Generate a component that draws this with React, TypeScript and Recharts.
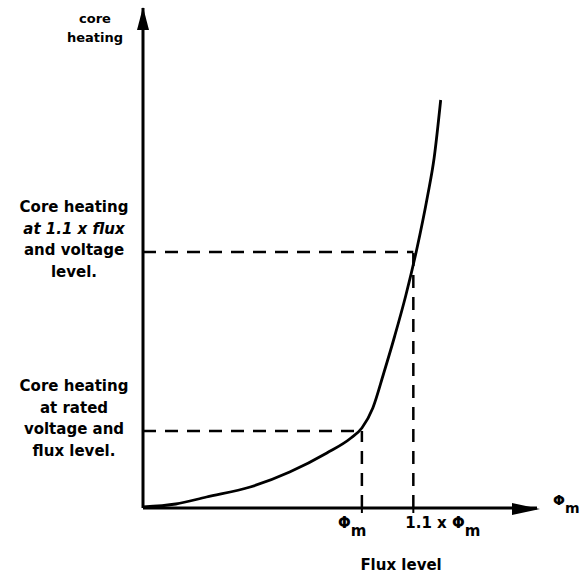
import { LineChart, Line, XAxis, YAxis, ReferenceLine, ReferenceDot, Label } from 'recharts';

// flux level (Φm = 100) and core heating
const fluxValues = [0, 15, 29, 49, 67, 84, 95, 100, 105, 110, 115, 120, 125, 130, 133, 136];
const heatValues = [1, 4, 11, 21, 36, 55, 70, 80, 100, 135, 172, 212, 258, 312, 350, 408];

const fluxTicks = [100, 123.5];
const fluxTickLabels = ['Φ', '1.1 x Φ'];

const ratedPoint = { flux: 100, heat: 77 };
const overPoint = { flux: 123.5, heat: 256 };

const ratedText = ['Core heating', 'at rated', 'voltage and', 'flux level.'];
const overText = ['Core heating', 'at 1.1 x flux', 'and voltage', 'level.'];

const FONT = '"DejaVu Sans", sans-serif';

const data = fluxValues.map((flux, i) => ({ flux, heat: heatValues[i] }));

const FluxTick = (props: any) => {
  const { x, y, payload, index } = props;
  const i = fluxTicks.indexOf(payload.value);
  const dx = index === 0 ? -24 : -8;
  return (
    <text x={x + dx} y={y + 13} fontSize={15} fontWeight="bold" fontFamily={FONT} fill="#000">
      {fluxTickLabels[i]}
      <tspan dy={8}>m</tspan>
    </text>
  );
};

const makeBlock = (lines: string[], italicLine: number) => (props: any) => {
  const { viewBox } = props;
  const cx = viewBox.x - 69;
  const y0 = viewBox.y - 40;
  return (
    <text textAnchor="middle" fontSize={15} fontWeight="bold" fontFamily={FONT} fill="#000">
      {lines.map((t, i) => (
        <tspan key={i} x={cx} y={y0 + i * 21.5} fontStyle={i === italicLine ? 'italic' : 'normal'}>
          {t}
        </tspan>
      ))}
    </text>
  );
};

const HeatAxisLabel = (props: any) => {
  const { viewBox } = props;
  const cx = viewBox.x + viewBox.width - 48;
  return (
    <text textAnchor="middle" fontSize={13} fontWeight="bold" fontFamily={FONT} fill="#000">
      <tspan x={cx} y={viewBox.y + 15}>core</tspan>
      <tspan x={cx} y={viewBox.y + 34}>heating</tspan>
    </text>
  );
};

const FluxAxisLabel = (props: any) => {
  const { viewBox } = props;
  const { x, y, width } = viewBox;
  return (
    <g fontWeight="bold" fontFamily={FONT} fill="#000">
      <text x={x + width + 16} y={y - 3} fontSize={14}>
        Φ<tspan dy={8}>m</tspan>
      </text>
      <text x={x + width * 0.655} y={y + 62} fontSize={15} textAnchor="middle">
        Flux level
      </text>
    </g>
  );
};

const ArrowUp = (props: any) => {
  const { cx, cy } = props;
  return <polygon points={`${cx},${cy - 1} ${cx - 6},${cy + 22} ${cx + 6},${cy + 22}`} fill="#000" />;
};

const ArrowRight = (props: any) => {
  const { cx, cy } = props;
  return <polygon points={`${cx + 3},${cy + 1} ${cx - 25},${cy - 5} ${cx - 25},${cy + 7}`} fill="#000" />;
};

const App = () => {
  return (
    <div style={{ position: 'absolute', left: 0, top: 0, background: '#fff' }}>
      <LineChart width={587} height={576} data={data} margin={{ top: 8, right: 50, left: 0, bottom: 0 }}>
        <XAxis
          type="number"
          dataKey="flux"
          domain={[0, 180]}
          ticks={fluxTicks}
          tick={<FluxTick />}
          tickSize={5}
          tickLine={{ stroke: '#000', strokeWidth: 2 }}
          axisLine={{ stroke: '#000', strokeWidth: 3 }}
          height={68}
        >
          <Label content={<FluxAxisLabel />} />
        </XAxis>
        <YAxis
          type="number"
          domain={[0, 500]}
          width={143}
          tick={false}
          tickLine={false}
          axisLine={{ stroke: '#000', strokeWidth: 3 }}
        >
          <Label content={<HeatAxisLabel />} />
        </YAxis>
        <ReferenceLine
          segment={[{ x: 0, y: ratedPoint.heat }, { x: ratedPoint.flux, y: ratedPoint.heat }]}
          stroke="#000"
          strokeWidth={2.5}
          strokeDasharray="13 9"
          label={makeBlock(ratedText, -1)}
        />
        <ReferenceLine
          segment={[{ x: ratedPoint.flux, y: 0 }, { x: ratedPoint.flux, y: ratedPoint.heat }]}
          stroke="#000"
          strokeWidth={2.5}
          strokeDasharray="13 9"
        />
        <ReferenceLine
          segment={[{ x: 0, y: overPoint.heat }, { x: overPoint.flux, y: overPoint.heat }]}
          stroke="#000"
          strokeWidth={2.5}
          strokeDasharray="13 9"
          label={makeBlock(overText, 1)}
        />
        <ReferenceLine
          segment={[{ x: overPoint.flux, y: 0 }, { x: overPoint.flux, y: overPoint.heat }]}
          stroke="#000"
          strokeWidth={2.5}
          strokeDasharray="13 9"
        />
        <Line
          type="monotone"
          dataKey="heat"
          stroke="#000"
          strokeWidth={2.8}
          dot={false}
          isAnimationActive={false}
        />
        <ReferenceDot x={0} y={500} r={0} shape={<ArrowUp />} ifOverflow="visible" />
        <ReferenceDot x={180} y={0} r={0} shape={<ArrowRight />} ifOverflow="visible" />
      </LineChart>
    </div>
  );
};

export default App;
